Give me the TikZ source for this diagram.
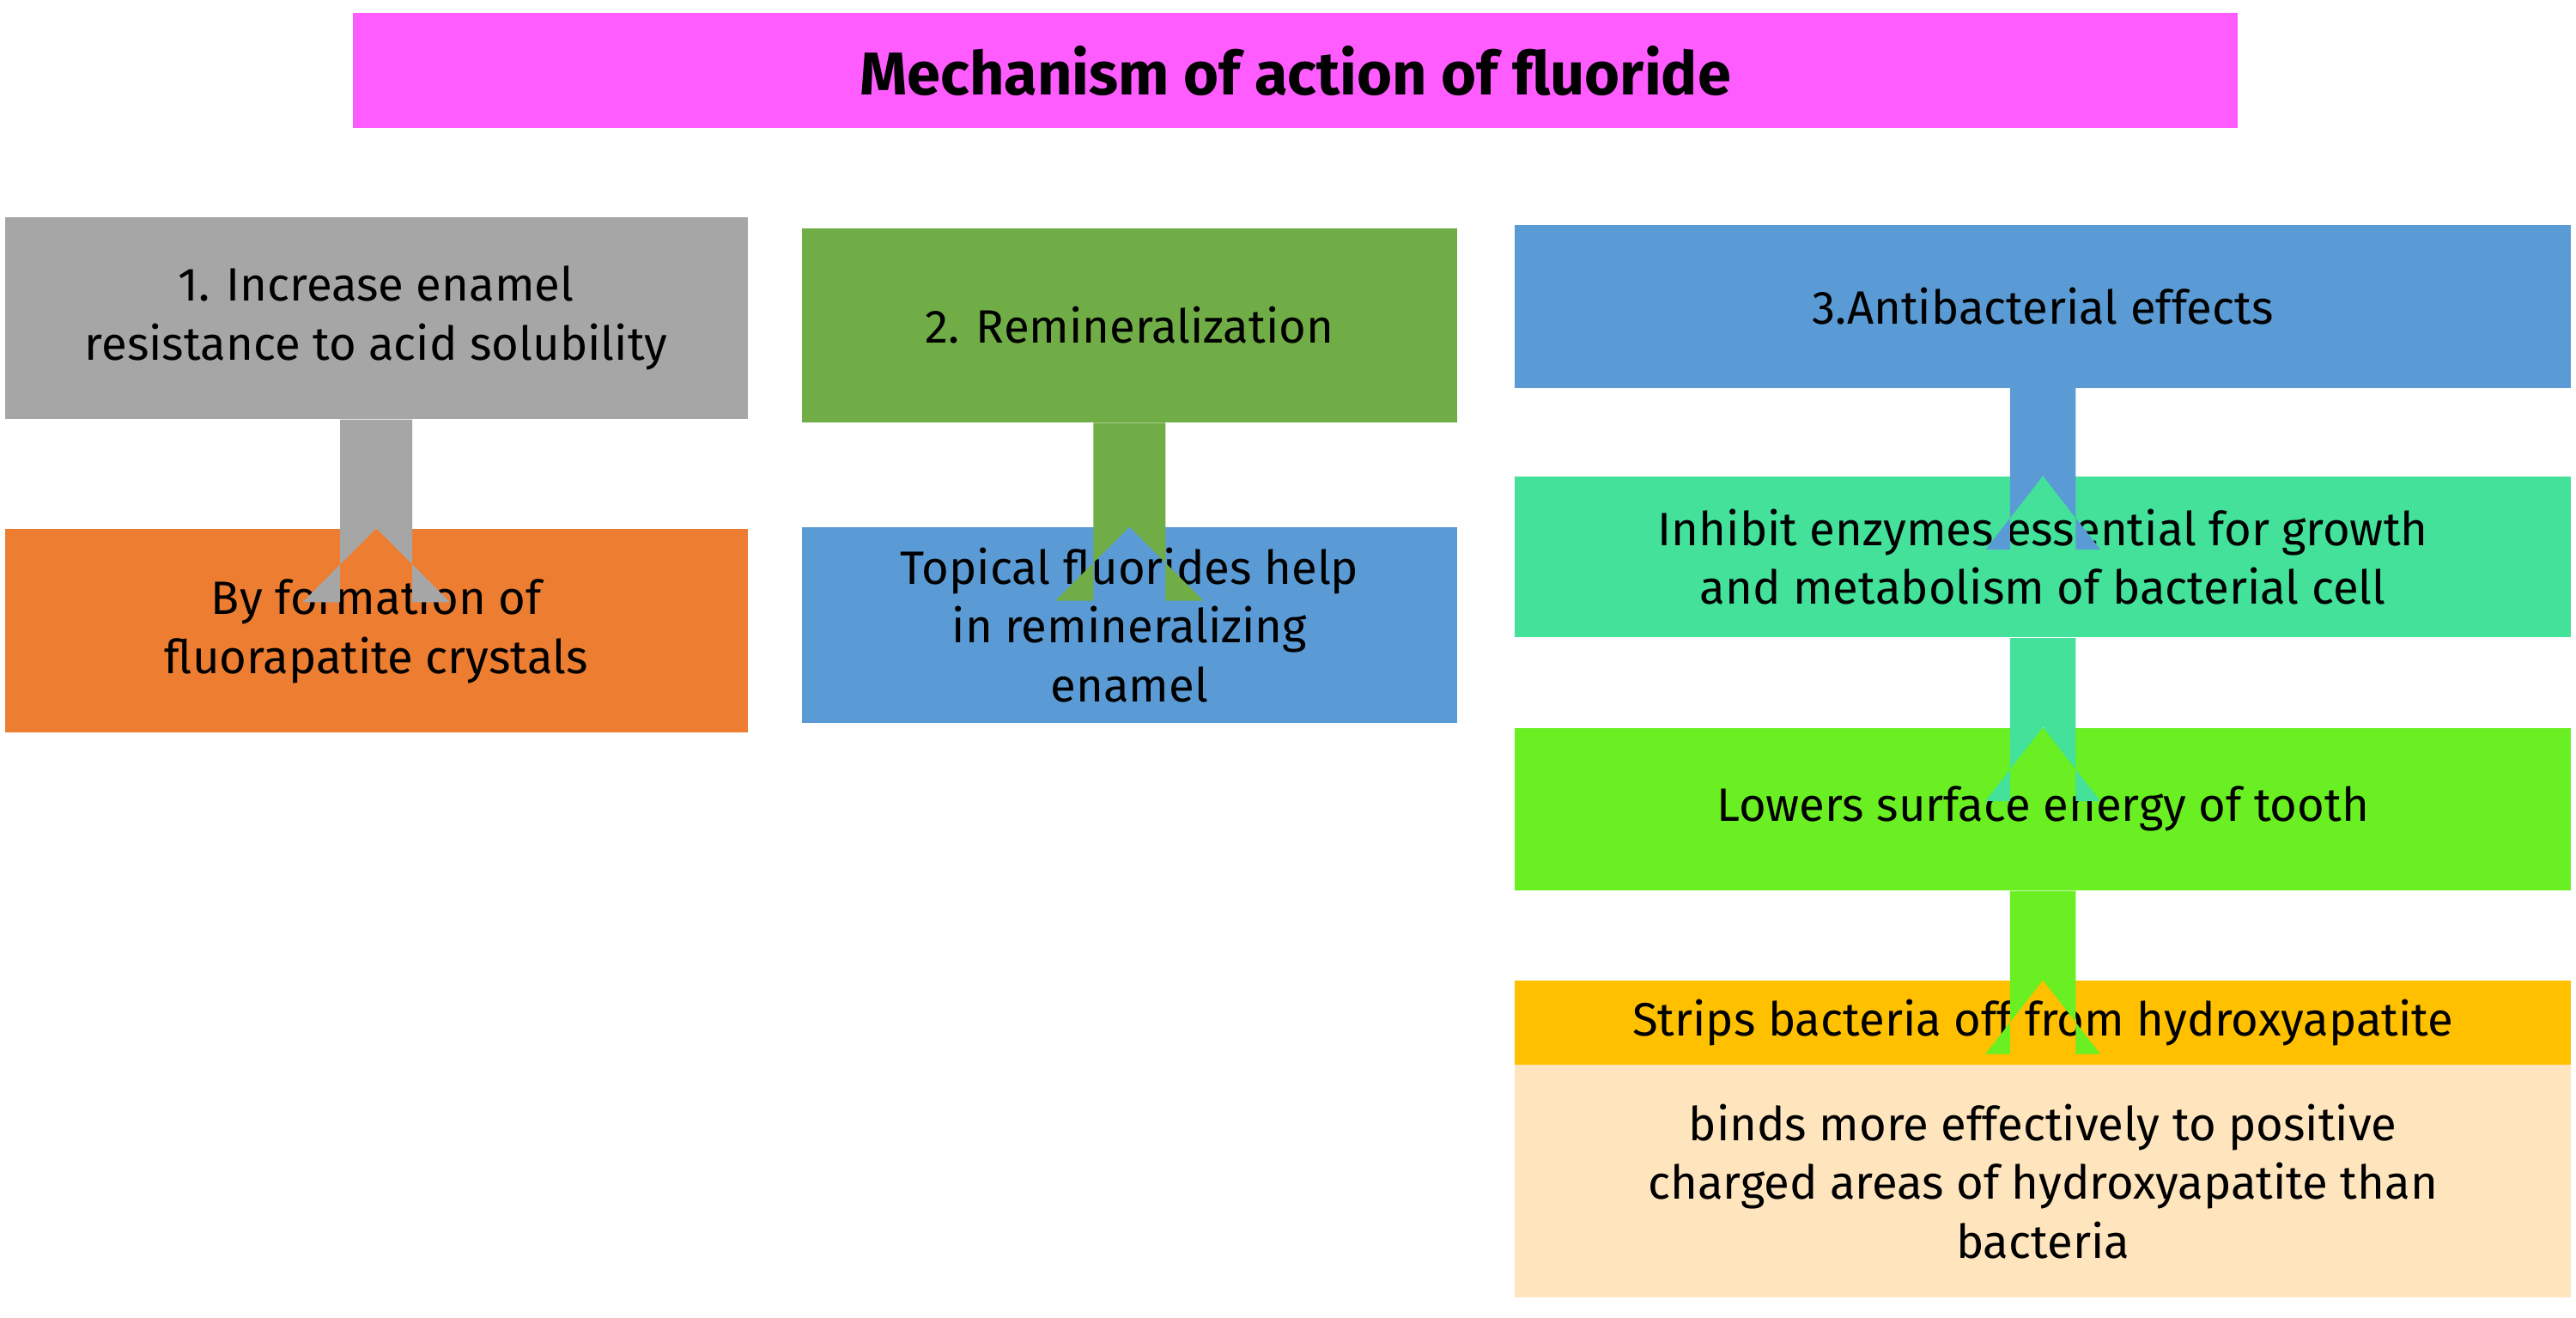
\documentclass[tikz,border=0pt]{standalone}
\usepackage{fontspec}
\setmainfont{Fira Sans}
\usetikzlibrary{positioning,calc}
\definecolor{titlemag}{HTML}{FF5CFF}
\definecolor{greybox}{HTML}{A6A6A6}
\definecolor{orangebox}{HTML}{ED7D31}
\definecolor{greenbox}{HTML}{70AD47}
\definecolor{bluebox}{HTML}{5B9BD5}
\definecolor{tealbox}{HTML}{43E19A}
\definecolor{limebox}{HTML}{6AEF22}
\definecolor{goldbox}{HTML}{FFC000}
\definecolor{peachbox}{HTML}{FFE5BD}
% block arrow: #1 colour, #2 from, #3 to, #4 shaft half width, #5 head half width
\newcommand{\blockarrow}[5]{%
  \fill[#1] ($(#2.south)+(-#4,0)$) -- ($(#2.south)+(#4,0)$) --
    ($(#3.north)+(#4,45)$) -- ($(#3.north)+(#5,45)$) -- (#3.north) --
    ($(#3.north)+(-#5,45)$) -- ($(#3.north)+(-#4,45)$) -- cycle;}
\begin{document}
\begin{tikzpicture}[x=0.01913cm, y=-0.01913cm,
    box/.style={rectangle, inner sep=0pt, align=center, font=\fontsize{15.5}{19.5}\selectfont},
    titlebox/.style={box, fill=titlemag, font=\fontsize{20}{24}\selectfont\bfseries}
]
  \useasboundingbox (0,0) rectangle (1568,802);
  \node[titlebox, minimum width=1147*0.01913cm, minimum height=70*0.01913cm] (title) at (788.5,43) {Mechanism of action of fluoride};

  \node[box, fill=greybox, minimum width=452*0.01913cm, minimum height=123*0.01913cm] (incr) at (229,193.5) {1. Increase enamel\\resistance to acid solubility};
  \node[box, fill=orangebox, minimum width=452*0.01913cm, minimum height=124*0.01913cm] (fluor) at (229,384) {By formation of\\fluorapatite crystals};

  \node[box, fill=greenbox, minimum width=399*0.01913cm, minimum height=118*0.01913cm] (remin) at (687.5,198) {2. Remineralization};
  \node[box, fill=bluebox, minimum width=399*0.01913cm, minimum height=119*0.01913cm] (topical) at (687.5,380.5) {Topical fluorides help\\in remineralizing\\enamel};

  \node[box, fill=bluebox, minimum width=643*0.01913cm, minimum height=99*0.01913cm] (antibac) at (1243.5,186.5) {3.Antibacterial effects};
  \node[box, fill=tealbox, minimum width=643*0.01913cm, minimum height=98*0.01913cm] (inhibit) at (1243.5,339) {Inhibit enzymes essential for growth\\and metabolism of bacterial cell};
  \node[box, fill=limebox, minimum width=643*0.01913cm, minimum height=99*0.01913cm] (lowers) at (1243.5,492.5) {Lowers surface energy of tooth};
  \node[box, fill=goldbox, minimum width=643*0.01913cm, minimum height=51*0.01913cm] (strips) at (1243.5,622.5) {Strips bacteria off from hydroxyapatite};
  \node[box, fill=peachbox, minimum width=643*0.01913cm, minimum height=142*0.01913cm] (binds) at (1243.5,719) {binds more effectively to positive\\charged areas of hydroxyapatite than\\bacteria};

  \blockarrow{greybox}{incr}{fluor}{22}{45}
  \blockarrow{greenbox}{remin}{topical}{22}{45}
  \blockarrow{bluebox}{antibac}{inhibit}{20}{35}
  \blockarrow{tealbox}{inhibit}{lowers}{20}{35}
  \blockarrow{limebox}{lowers}{strips}{20}{35}
\end{tikzpicture}
\end{document}
